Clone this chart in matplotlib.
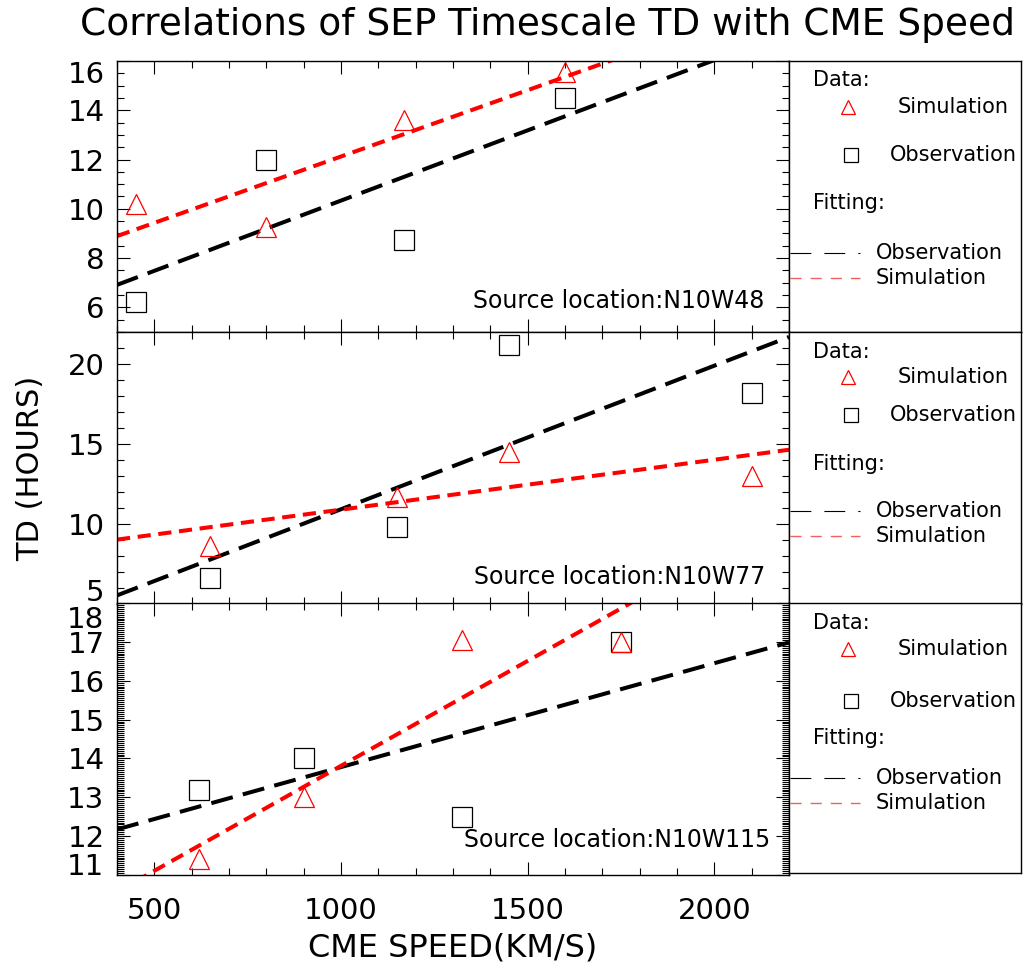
import matplotlib
matplotlib.use('Agg')
import matplotlib.pyplot as plt
from matplotlib.ticker import MultipleLocator
from matplotlib.transforms import ScaledTranslation
import numpy as np

# CME speed (km/s) and SEP timescale TD (hours), one set per source location
speed_w48 = [450, 800, 1170, 1600]
sim_w48 = [10.2, 9.25, 13.6, 15.55]
obs_w48 = [6.2, 12.0, 8.75, 14.5]

speed_w77 = [650, 1150, 1450, 2100]
sim_w77 = [8.6, 11.7, 14.5, 13.0]
obs_w77 = [6.6, 9.8, 21.2, 18.2]

speed_w115 = [620, 900, 1325, 1750]
sim_w115 = [11.4, 13.0, 17.05, 17.0]
obs_w115 = [13.2, 14.0, 12.5, 17.0]

sources = ['N10W48', 'N10W77', 'N10W115']
ylims = [(5, 16), (5, 22), (11, 18)]
ymajor = [2, 5, 1]
yminor = [0.5, 1, 0.05]
xlim = (400, 2200)

plt.rcParams['font.family'] = ['DejaVu Sans']
plt.rcParams['lines.scale_dashes'] = False

fig = plt.figure(figsize=(10.34, 9.72), dpi=100)
W, H = 1034.0, 972.0

def px_axes(x0, y0, x1, y1):
    return fig.add_axes([x0 / W, 1 - y1 / H, (x1 - x0) / W, (y1 - y0) / H])

panels = [
    (speed_w48, sim_w48, obs_w48, (61, 332), (0.964, 0.114)),
    (speed_w77, sim_w77, obs_w77, (332, 604), (0.964, 0.10)),
    (speed_w115, sim_w115, obs_w115, (603, 875), (0.972, 0.129)),
]
# legend row heights (axes fraction) per panel: data, tri, square, fitting, black, red
legend_rows = [
    (0.93, 0.83, 0.653, 0.476, 0.2915, 0.199),
    (0.926, 0.835, 0.695, 0.515, 0.342, 0.25),
    (0.926, 0.83, 0.637, 0.50, 0.352, 0.259),
]
# pixel shift of the y labels sitting on the bottom / top edge of each panel
edge_shift = [(11, -11), (14, -11), (11, -14)]

for i, (spd, sim, obs, (ya, yb), (tx, ty)) in enumerate(panels):
    ax = px_axes(117, ya, 789, yb)
    xfit = np.array(xlim, dtype=float)
    p_obs = np.polyfit(spd, obs, 1)
    p_sim = np.polyfit(spd, sim, 1)
    ax.plot(xfit, np.polyval(p_obs, xfit), color='black', lw=2.9,
            dashes=(16, 7.5), dash_capstyle='butt', zorder=2)
    ax.plot(xfit, np.polyval(p_sim, xfit), color='red', lw=2.9,
            dashes=(9.5, 5.5), dash_capstyle='butt', zorder=2)
    ax.plot(spd, obs, ls='none', marker='s', ms=13.7, mfc='none',
            mec='black', mew=0.9, zorder=3)
    ax.plot(spd, sim, ls='none', marker='^', ms=14.4, mfc='none',
            mec='red', mew=0.9, zorder=4)

    ax.set_xlim(*xlim)
    ax.set_ylim(*ylims[i])
    ax.xaxis.set_major_locator(MultipleLocator(500))
    ax.xaxis.set_minor_locator(MultipleLocator(100))
    ax.yaxis.set_major_locator(MultipleLocator(ymajor[i]))
    ax.yaxis.set_minor_locator(MultipleLocator(yminor[i]))
    ax.tick_params(which='both', direction='in', top=True, right=True,
                   width=0.8, labelsize=21)
    ax.tick_params(which='major', length=9.5)
    ax.tick_params(which='minor', length=5)
    ax.tick_params(axis='y', pad=9)
    ax.tick_params(axis='x', pad=16)
    for sp in ax.spines.values():
        sp.set_linewidth(1.0)
    if i < 2:
        ax.tick_params(axis='x', labelbottom=False)

    # nudge the labels sitting on the panel edges inwards, like IDL does
    lo, hi = ylims[i]
    for loc, tick in zip(ax.yaxis.get_majorticklocs(), ax.yaxis.get_major_ticks()):
        if abs(loc - lo) < 1e-6:
            dy = edge_shift[i][0]
        elif abs(loc - hi) < 1e-6:
            dy = edge_shift[i][1]
        else:
            continue
        lab = tick.label1
        lab.set_transform(lab.get_transform() +
                          ScaledTranslation(0, dy / 100.0, fig.dpi_scale_trans))

    ax.text(tx, ty, 'Source location:' + sources[i], transform=ax.transAxes,
            ha='right', va='center', fontsize=17)
    if i == 2:
        ax.set_xlabel('CME SPEED(KM/S)', fontsize=23, labelpad=5)

    # legend box
    lg = px_axes(789, ya, 1021, yb if i < 2 else 873)
    lg.set_xlim(0, 1)
    lg.set_ylim(0, 1)
    lg.set_xticks([])
    lg.set_yticks([])
    for sp in lg.spines.values():
        sp.set_linewidth(1.0)
    r = legend_rows[i]
    lg.text(0.103, r[0], 'Data:', fontsize=15, va='center', ha='left')
    lg.plot([0.254], [r[1]], ls='none', marker='^', ms=10.5, mfc='none', mec='red', mew=0.9)
    lg.text(0.47, r[1], 'Simulation', fontsize=15, va='center', ha='left')
    lg.plot([0.267], [r[2]], ls='none', marker='s', ms=10, mfc='none', mec='black', mew=0.9)
    lg.text(0.435, r[2], 'Observation', fontsize=15, va='center', ha='left')
    lg.text(0.103, r[3], 'Fitting:', fontsize=15, va='center', ha='left')
    lg.plot([0.004, 0.306], [r[4], r[4]], color='black', lw=0.8,
            dashes=(15, 9.4), dash_capstyle='butt')
    lg.text(0.375, r[4], 'Observation', fontsize=15, va='center', ha='left')
    lg.plot([0.004, 0.306], [r[5], r[5]], color='#f06060', lw=1.0,
            dashes=(8, 6.5), dash_capstyle='butt')
    lg.text(0.375, r[5], 'Simulation', fontsize=15, va='center', ha='left')

fig.text(31 / W, 1 - 468 / H, 'TD (HOURS)', rotation=90, fontsize=22,
         ha='center', va='center')
fig.text(547 / W, 1 - 25 / H, 'Correlations of SEP Timescale TD with CME Speed',
         fontsize=27, ha='center', va='center')

fig.savefig('out.png', dpi=100)
